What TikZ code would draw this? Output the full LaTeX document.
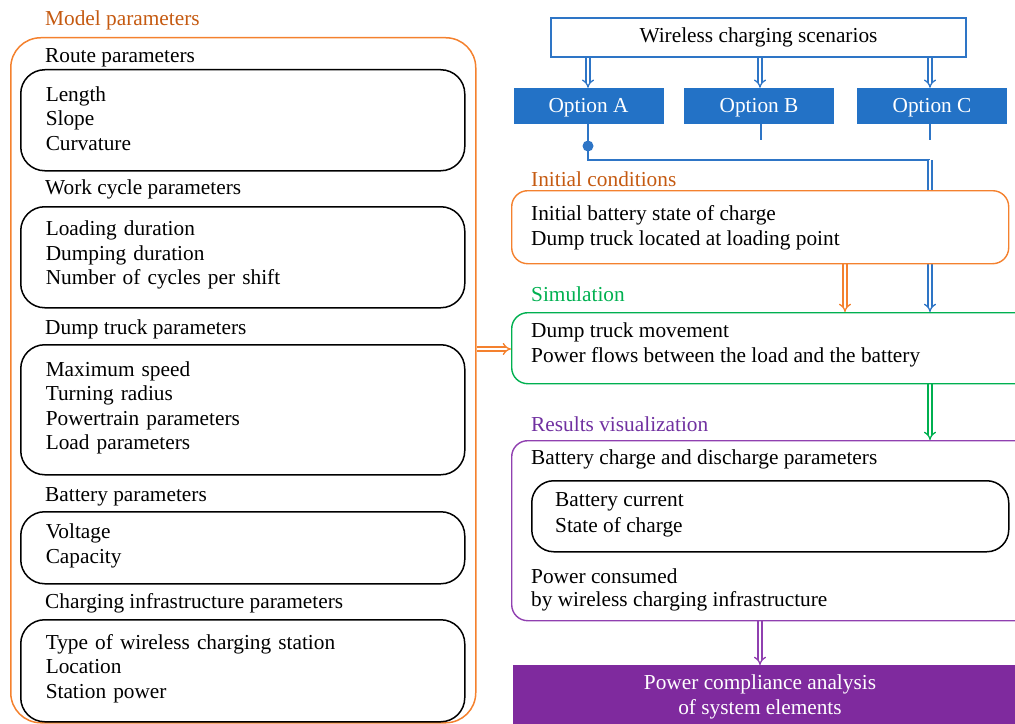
\documentclass[tikz,border=0pt]{standalone}
\usepackage{fontspec}
\setmainfont{Liberation Serif}
\usetikzlibrary{arrows.meta}
\definecolor{orBorder}{HTML}{F4812E}
\definecolor{orText}{HTML}{C55A11}
\definecolor{bl}{HTML}{2E75C6}
\definecolor{blFill}{HTML}{2372C6}
\definecolor{gr}{HTML}{00B050}
\definecolor{puText}{HTML}{7030A0}
\definecolor{puBorder}{HTML}{9040B0}
\definecolor{puFill}{HTML}{7F2A9E}
\pgfdeclarelayer{bg}
\pgfsetlayers{bg,main}
\newcommand\itemlist[1]{\raisebox{2bp}[\height][\depth]{\parbox{400bp}{\raggedright #1}}}
\newcommand\optlabel[1]{\raisebox{-2bp}[\height][\depth]{#1}}
\begin{document}
\begin{tikzpicture}[x=1bp,y=-1bp,
  every node/.style={font=\fontsize{21.4}{24.6}\selectfont},
  lbl/.style={anchor=west,inner sep=0pt},
  parbox/.style={draw=black,line width=1.5bp,rounded corners=24bp,fill=white,
     anchor=north west,inner xsep=25bp,inner ysep=0pt,text width=394bp},
  rbox/.style={draw=#1,line width=1.4bp,rounded corners=16bp,fill=white,anchor=north west,inner sep=0pt},
  optbox/.style={fill=blFill,text=white,minimum width=150bp,minimum height=36bp,inner sep=0pt},
  dbl/.style={draw=#1,line width=1.3bp,double=white,double distance=2.8bp,-{Implies[length=5bp,width=11bp]}},
  thinline/.style={draw=bl,line width=2.6bp}
]
\useasboundingbox (0,0) rectangle (1015,724);

% ---------- left: model parameters ----------
\node[lbl,text=orText] (mplbl) at (45,20) {Model parameters};
\node[draw=orBorder,line width=1.5bp,rounded corners=30bp,anchor=north west,
      minimum width=465bp,minimum height=685bp,inner sep=0pt] (model) at (10,37) {};

\node[lbl] (l1) at (45,58) {Route parameters};
\node[parbox,minimum height=101bp] (b1) at (20,69) {\itemlist{Length\\Slope\\Curvature}};
\node[lbl] (l2) at (45,189) {Work cycle parameters};
\node[parbox,minimum height=101bp] (b2) at (20,206) {\itemlist{Loading duration\\Dumping duration\\Number of cycles per shift}};
\node[lbl] (l3) at (45,329) {Dump truck parameters};
\node[parbox,minimum height=130bp] (b3) at (20,344) {\itemlist{Maximum speed\\Turning radius\\Powertrain parameters\\Load parameters}};
\node[lbl] (l4) at (45,497) {Battery parameters};
\node[parbox,minimum height=72bp] (b4) at (20,511) {\itemlist{Voltage\\Capacity}};
\node[lbl] (l5) at (45,603) {Charging infrastructure parameters};
\node[parbox,minimum height=102bp] (b5) at (20,619) {\itemlist{Type of wireless charging station\\Location\\Station power}};

% ---------- right ----------
\node[draw=bl,line width=1.4bp,fill=white,minimum width=415bp,minimum height=39bp,inner sep=0pt] (wcs) at (758.5,37.5) {Wireless charging scenarios};
\node[optbox] (optA) at (588.5,106) {\optlabel{Option A}};
\node[optbox] (optB) at (759,106) {\optlabel{Option B}};
\node[optbox] (optC) at (932,106) {\optlabel{Option C}};

\node[lbl,text=orText] (icl) at (531,179) {Initial conditions};
\node[rbox=orBorder,minimum width=497bp,minimum height=73bp] (init) at (511,190) {};
\node[lbl] (i1) at (531,215) {Initial battery state of charge};
\node[lbl] (i2) at (531,240) {Dump truck located at loading point};

\node[lbl,text=gr] (siml) at (531,294) {Simulation};
\node[rbox=gr,minimum width=520bp,minimum height=71bp] (sim) at (511,312) {};
\node[lbl] (s1) at (531,332) {Dump truck movement};
\node[lbl] (s2) at (531,357) {Power flows between the load and the battery};

\node[lbl,text=puText] (resl) at (531,424) {Results visualization};
\node[rbox=puBorder,minimum width=520bp,minimum height=180bp] (res) at (511,440) {};
\node[lbl] (r1) at (531,459) {Battery charge and discharge parameters};
\node[draw=black,line width=1.5bp,rounded corners=22bp,fill=white,anchor=north west,
      minimum width=477bp,minimum height=71bp,inner sep=0pt] (inner) at (531,480) {};
\node[lbl] (r2) at (555,502) {Battery current};
\node[lbl] (r3) at (555,527) {State of charge};
\node[lbl] (r4) at (531,576) {Power consumed};
\node[lbl] (r5) at (531,601) {by wireless charging infrastructure};

\node[fill=puFill,anchor=north west,minimum width=512bp,minimum height=65bp,inner sep=0pt] (fin) at (513,665) {};
\node[text=white,align=center,inner sep=0pt] (fint) at (760,697) {Power compliance analysis\\of system elements};

% ---------- connectors ----------
\coordinate (stubB) at (761,140);
\coordinate (stubC) at (930,140);
\coordinate (dotA) at (588,146);
\coordinate (jA) at (588,160);
\coordinate (jC) at (930,160);
\begin{pgfonlayer}{bg}
\draw[dbl=bl] (wcs.south -| 588,0) -- (optA.north -| 588,0);
\draw[dbl=bl] (wcs.south -| 760,0) -- (optB.north -| 760,0);
\draw[dbl=bl] (wcs.south -| 930,0) -- (optC.north -| 930,0);
\draw[thinline] (optB.south -| stubB) -- (stubB);
\draw[thinline] (optC.south -| stubC) -- (stubC);
\draw[thinline] (optA.south -| dotA) -- (dotA) -- (jA) -- (jC);
\draw[dbl=bl] (jC) -- (sim.north -| jC);
\draw[dbl=orBorder] (init.south -| 845,0) -- (sim.north -| 845,0);
\draw[dbl=orBorder] (model.east |- 0,349) -- (sim.west |- 0,349);
\draw[dbl=gr] (sim.south -| 930,0) -- (res.north -| 930,0);
\draw[dbl=puBorder] (res.south -| 760,0) -- (fin.north -| 760,0);
\end{pgfonlayer}
\fill[bl] (dotA) circle (5.5bp);
\end{tikzpicture}
\end{document}
